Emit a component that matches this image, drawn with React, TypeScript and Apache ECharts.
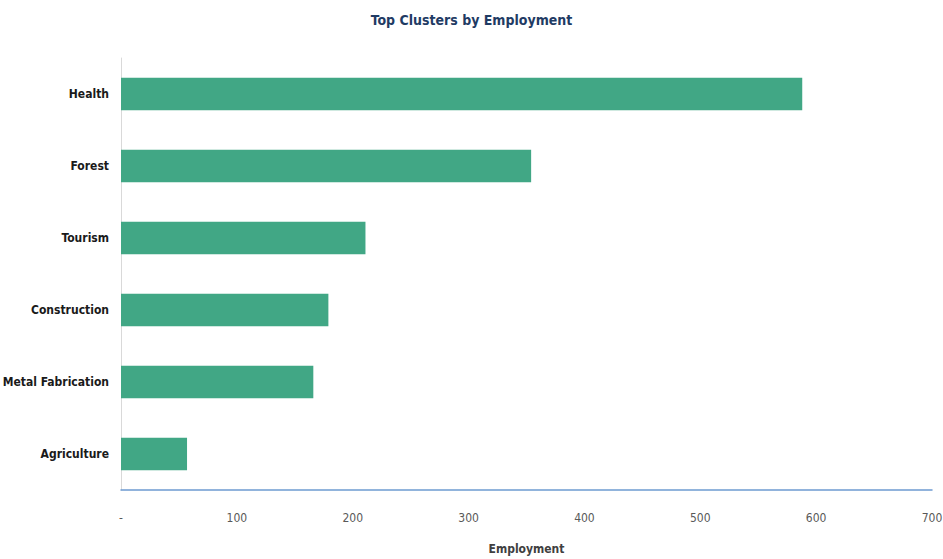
import React, { useEffect, useRef } from "react";
import * as echarts from "echarts";

const categories = ["Health", "Forest", "Tourism", "Construction", "Metal Fabrication", "Agriculture"];
const employment = [588, 354, 211, 179, 166, 57];
const xTicks = { min: 0, max: 700, interval: 100 };

const FONT = "'Liberation Sans Narrow', 'DejaVu Sans Condensed', sans-serif";

export default function App() {
  const ref = useRef<HTMLDivElement>(null);
  useEffect(() => {
    if (!ref.current) return;
    const chart = echarts.init(ref.current, undefined, { renderer: "svg" });
    chart.setOption({
      animation: false,
      backgroundColor: "#ffffff",
      title: {
        text: "Top Clusters by Employment",
        left: "center",
        top: 8,
        textStyle: { fontFamily: FONT, fontSize: 14, fontWeight: "bold", color: "#1f3b64" },
      },
      grid: { left: 121, right: 11, top: 58, bottom: 69, containLabel: false, outerBoundsMode: "none" },
      xAxis: {
        type: "value",
        min: xTicks.min,
        max: xTicks.max,
        interval: xTicks.interval,
        name: "Employment",
        nameLocation: "middle",
        nameGap: 53,
        nameTextStyle: { fontFamily: FONT, fontSize: 12, fontWeight: "bold", color: "#404040" },
        axisLine: { show: true, lineStyle: { color: "#6d9bd1", width: 1.5 } },
        axisTick: { show: false },
        splitLine: { show: false },
        axisLabel: {
          margin: 22,
          fontFamily: FONT,
          fontSize: 12,
          color: "#595959",
          formatter: (v: number) => (v === 0 ? "-" : String(v)),
        },
      },
      yAxis: {
        type: "category",
        data: categories,
        inverse: true,
        axisLine: { show: true, lineStyle: { color: "#d9d9d9", width: 1 } },
        axisTick: { show: false },
        axisLabel: {
          margin: 12,
          fontFamily: FONT,
          fontSize: 12,
          fontWeight: "bold",
          color: "#1a1a1a",
        },
      },
      series: [
        {
          type: "bar",
          data: employment,
          barWidth: "45%",
          itemStyle: { color: "#41a785" },
        },
      ],
    });
    return () => chart.dispose();
  }, []);
  return (
    <div
      ref={ref}
      style={{ position: "fixed", left: 0, top: 0, width: 943, height: 559 }}
    />
  );
}
